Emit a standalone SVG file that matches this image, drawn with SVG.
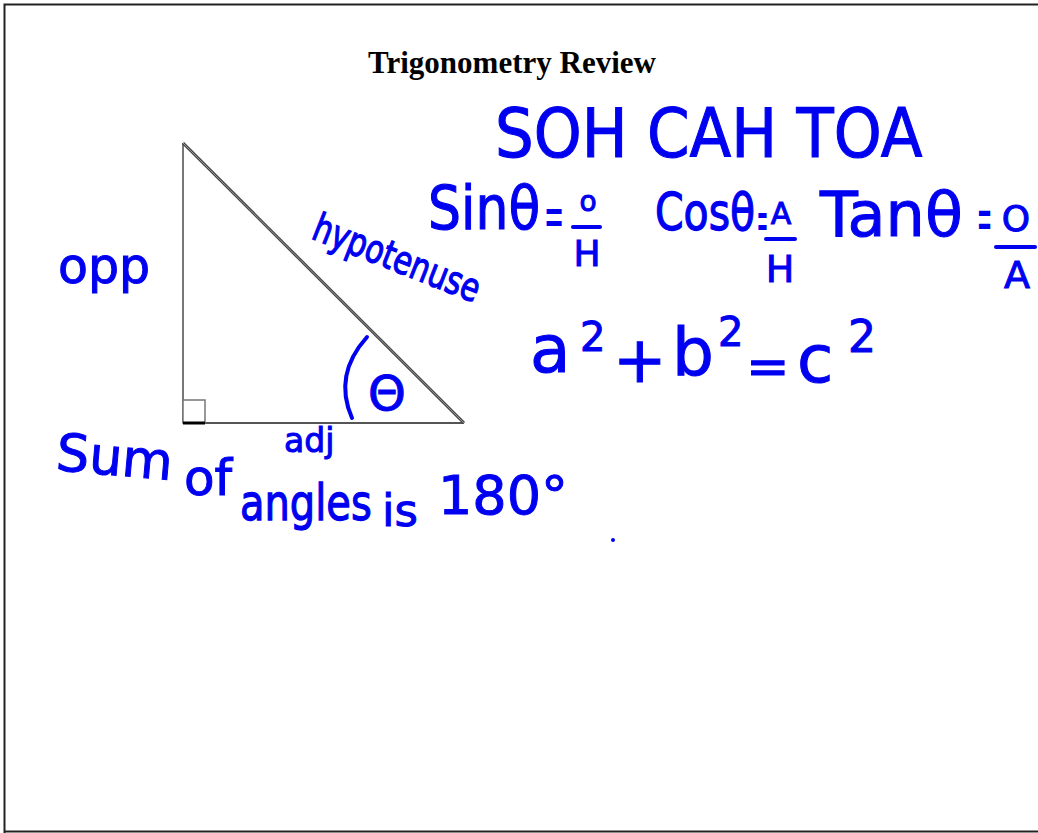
<svg xmlns="http://www.w3.org/2000/svg" width="1038" height="833" viewBox="0 0 1038 833">
<style>
.hw{font-family:"DejaVu Sans","Liberation Sans",sans-serif;fill:#0000f0;stroke:#0000f0;stroke-width:1;}
.eq{stroke:none;}
.ink{fill:none;stroke:#0000f0;stroke-width:4;stroke-linecap:round;}
.title{font-family:"Liberation Serif","Times New Roman",serif;font-weight:bold;font-size:31px;fill:#000;}
</style>
<rect x="0" y="0" width="1038" height="833" fill="#fff"/>
<g id="frame">
<path d="M4.5 1040 V4.5 H1040 M4.5 831.5 H1040" fill="none" stroke="#222" stroke-width="2"/>
</g>
<g id="title"><text class="title" x="512" y="73" text-anchor="middle">Trigonometry Review</text></g>
<g id="triangle">
<line x1="183" y1="143" x2="183" y2="423" stroke="#777" stroke-width="2"/>
<line x1="183" y1="423" x2="464" y2="423" stroke="#555" stroke-width="2"/>
<line x1="183" y1="143" x2="464" y2="423" stroke="#444" stroke-width="3"/>
<line x1="183" y1="143" x2="464" y2="423" stroke="#999" stroke-width="1"/>
<rect x="183" y="400" width="22" height="23" fill="#fff" stroke="#777" stroke-width="1.5"/>
<line x1="183" y1="423" x2="205" y2="423" stroke="#000" stroke-width="3"/>
</g>
<g id="angle">
<path class="ink" d="M367 337 Q333 375 352 418"/>
<text class="hw" x="368" y="410" font-size="48">Θ</text>
</g>
<g id="labels">
<text class="hw" x="58" y="283" font-size="49">opp</text>
<text class="hw" x="310" y="238" font-size="30" transform="rotate(21.5 310 238) matrix(1 0 0 1.3 0 -71.4)">hypotenuse</text>
<text class="hw" x="284" y="452" font-size="33">adj</text>
</g>
<g id="sum">
<text class="hw" x="55" y="470" font-size="52" transform="rotate(5 55 470)">Sum</text>
<text class="hw" x="184" y="495" font-size="50">of</text>
<text class="hw" x="240" y="520" font-size="40" transform="matrix(1 0 0 1.25 0 -130)">angles</text>
<text class="hw" x="382" y="526" font-size="45">is</text>
<text class="hw" x="438" y="514" font-size="54">180°</text>
<circle cx="613" cy="540" r="2" fill="#0000f0"/>
</g>
<g id="sohcahtoa">
<text class="hw" x="495" y="157" font-size="61" transform="matrix(1 0 0 1.12 0 -18.84)">SOH CAH TOA</text>
</g>
<g id="sin">
<text class="hw" x="428" y="229" font-size="52" transform="matrix(1 0 0 1.18 0 -41.22)">Sinθ</text>
<text class="hw eq" x="544" y="235.6" font-size="24" transform="matrix(1 0 0 2.5 0 -353.4)">=</text>
<text class="hw" x="588" y="211" font-size="28" text-anchor="middle">o</text>
<line class="ink" x1="573" y1="227" x2="600" y2="227"/>
<text class="hw" x="587" y="266" font-size="36" text-anchor="middle">H</text>
</g>
<g id="cos">
<text class="hw" x="655" y="230" font-size="41" transform="matrix(1 0 0 1.25 0 -57.5)">Cosθ</text>
<text class="hw eq" x="757" y="240.5" font-size="13" transform="matrix(1 0 0 4.6 0 -865.8)">=</text>
<text class="hw" x="781" y="224" font-size="30" text-anchor="middle">A</text>
<line class="ink" x1="766" y1="239" x2="795" y2="239"/>
<text class="hw" x="780" y="282" font-size="38" text-anchor="middle">H</text>
</g>
<g id="tan">
<text class="hw" x="820" y="236" font-size="62">Tanθ</text>
<text class="hw eq" x="977" y="240.3" font-size="18" transform="matrix(1 0 0 3.6 0 -624.8)">=</text>
<text class="hw" x="1016" y="231" font-size="36" text-anchor="middle">O</text>
<line class="ink" x1="996" y1="247" x2="1035" y2="247"/>
<text class="hw" x="1017" y="288" font-size="38" text-anchor="middle">A</text>
</g>
<g id="pythagoras">
<text class="hw" x="530" y="372" font-size="66">a</text>
<text class="hw" x="580" y="351" font-size="40">2</text>
<text class="hw" x="613" y="382" font-size="64">+</text>
<text class="hw" x="672" y="375" font-size="66">b</text>
<text class="hw" x="718" y="346" font-size="40">2</text>
<text class="hw" x="746" y="384" font-size="52">=</text>
<text class="hw" x="797" y="382" font-size="66">c</text>
<text class="hw" x="848" y="352" font-size="44">2</text>
</g>
</svg>
